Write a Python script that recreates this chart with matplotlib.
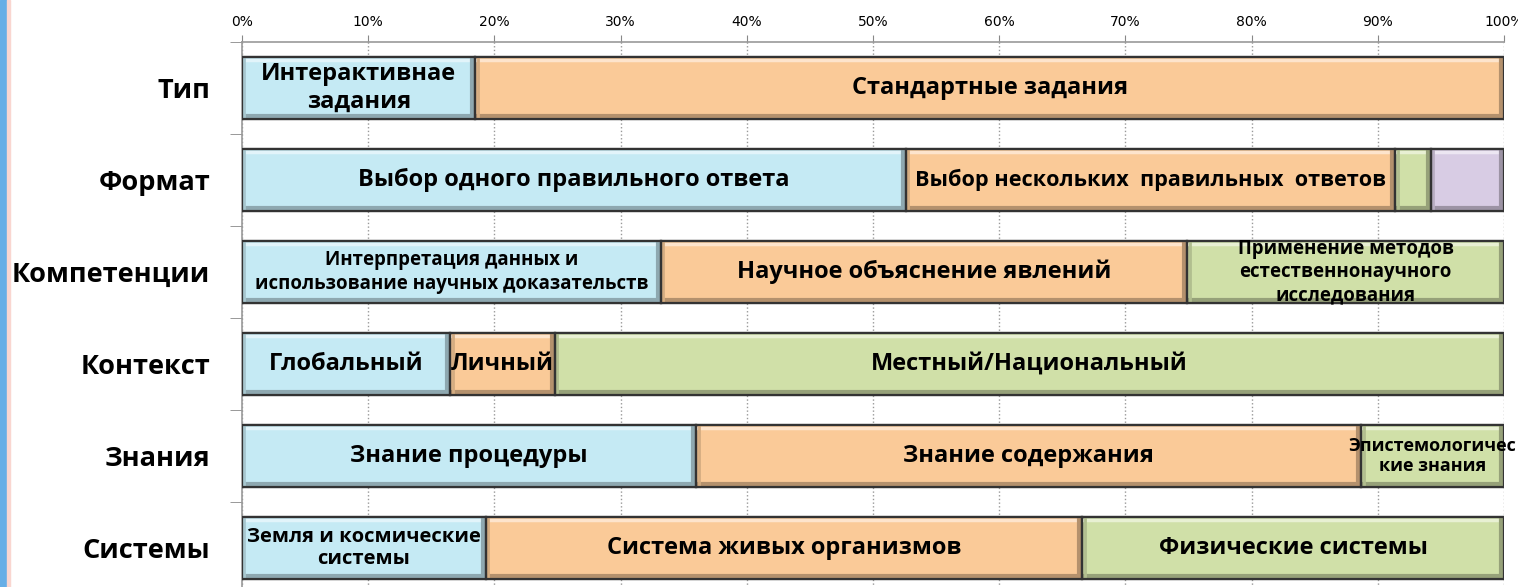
import numpy as np
import matplotlib
matplotlib.use('Agg')
import matplotlib.pyplot as plt
import matplotlib.colors as mcolors
from matplotlib.patches import Rectangle
from matplotlib.transforms import offset_copy

categories = ['Тип', 'Формат', 'Компетенции', 'Контекст', 'Знания', 'Системы']
seg1 = [18.5, 52.6, 33.2, 16.5, 36.0, 19.3]
seg2 = [81.5, 38.8, 41.7, 8.3, 52.7, 47.3]
seg3 = [0.0, 2.8, 25.1, 75.2, 11.3, 33.4]
seg4 = [0.0, 5.8, 0.0, 0.0, 0.0, 0.0]
labels1 = ['Интерактивнае\nзадания', 'Выбор одного правильного ответа',
           'Интерпретация данных и\nиспользование научных доказательств',
           'Глобальный', 'Знание процедуры', 'Земля и космические\nсистемы']
labels2 = ['Стандартные задания', 'Выбор нескольких  правильных  ответов',
           'Научное объяснение явлений', 'Личный', 'Знание содержания',
           'Система живых организмов']
labels3 = ['', '', 'Применение методов\nестественнонаучного\nисследования',
           'Местный/Национальный', 'Эпистемологичес\nкие знания', 'Физические системы']
labels4 = ['', '', '', '', '', '']
xticks = np.arange(0, 101, 10)

colors = ['#C5EAF4', '#FACA98', '#D0E0A8', '#D8CCE4']
small = {'Выбор нескольких  правильных  ответов': 15.6,
         'Интерпретация данных и\nиспользование научных доказательств': 13.4,
         'Применение методов\nестественнонаучного\nисследования': 13.4,
         'Эпистемологичес\nкие знания': 13,
         'Земля и космические\nсистемы': 14.5}


def shade(c, f):
    r = np.array(mcolors.to_rgb(c))
    return tuple(r * f) if f < 1 else tuple(r + (1 - r) * (f - 1))


plt.rcParams['font.family'] = ['Open Sans', 'DejaVu Sans']
fig = plt.figure(figsize=(15.18, 5.87), dpi=100)
# slide edge strips on the left
fig.patches.append(Rectangle((0, 0), 6 / 1518, 1, transform=fig.transFigure,
                             color='#66AEE6', zorder=0))
fig.patches.append(Rectangle((7 / 1518, 0), 3 / 1518, 1, transform=fig.transFigure,
                             color='#F9D6D0', zorder=0))
ax = fig.add_axes([242 / 1518, -7 / 587, 1262 / 1518, 552 / 587])

y = np.arange(len(categories))
left = np.zeros(len(categories))
for vals, labs, col in zip([seg1, seg2, seg3, seg4], [labels1, labels2, labels3, labels4], colors):
    vals = np.array(vals)
    bars = ax.barh(y, vals, left=left, height=0.68, color=col,
                   edgecolor='#333333', linewidth=1.6, zorder=3)
    for b, v, lab in zip(bars, vals, labs):
        if v <= 0:
            continue
        x0, x1 = b.get_x(), b.get_x() + b.get_width()
        yt, yb = b.get_y(), b.get_y() + b.get_height()
        # bevel: light top, dark bottom/right
        tr = offset_copy(ax.transData, fig=fig, x=0, y=-3, units='dots')
        ax.plot([x0, x1], [yt, yt], transform=tr, color=shade(col, 1.5), lw=2.5,
                solid_capstyle='butt', zorder=3.5)
        tr = offset_copy(ax.transData, fig=fig, x=0, y=3, units='dots')
        ax.plot([x0, x1], [yb, yb], transform=tr, color=shade(col, 0.72), lw=3,
                solid_capstyle='butt', zorder=3.5)
        tr = offset_copy(ax.transData, fig=fig, x=-3, y=0, units='dots')
        ax.plot([x1, x1], [yt, yb], transform=tr, color=shade(col, 0.72), lw=3,
                solid_capstyle='butt', zorder=3.5)
        tr = offset_copy(ax.transData, fig=fig, x=2.5, y=0, units='dots')
        ax.plot([x0, x0], [yt, yb], transform=tr, color=shade(col, 0.85), lw=2,
                solid_capstyle='butt', zorder=3.5)
        ax.add_patch(Rectangle((x0, yt), x1 - x0, yb - yt, fill=False,
                               edgecolor='#333333', lw=1.6, zorder=4))
        if lab:
            fs = small.get(lab, 17)
            ax.text((x0 + x1) / 2, (yt + yb) / 2, lab,
                    ha='center', va='center', fontsize=fs, fontweight='bold',
                    linespacing=1.2, zorder=5)
    left += vals

ax.set_xlim(0, 100)
ax.set_ylim(len(categories) - 0.5, -0.5)
ax.xaxis.tick_top()
ax.set_xticks(xticks)
ax.set_xticklabels([f'{t}%' for t in xticks], fontsize=10, family='DejaVu Sans')
ax.tick_params(axis='x', length=5, color='#888888', pad=4)
ax.set_yticks(y)
ax.set_yticklabels(categories, fontsize=19.5, fontweight='bold')
ax.set_yticks(np.arange(-0.5, len(categories), 1), minor=True)
ax.tick_params(axis='y', which='major', length=0, pad=23)
ax.tick_params(axis='y', which='minor', length=9, color='#888888')
ax.grid(axis='x', linestyle=':', color='#999999', linewidth=1, zorder=0)
for s in ['right', 'bottom']:
    ax.spines[s].set_visible(False)
for s in ['top', 'left']:
    ax.spines[s].set_color('#999999')
    ax.spines[s].set_linewidth(1.2)

fig.savefig('out.png', dpi=100)
